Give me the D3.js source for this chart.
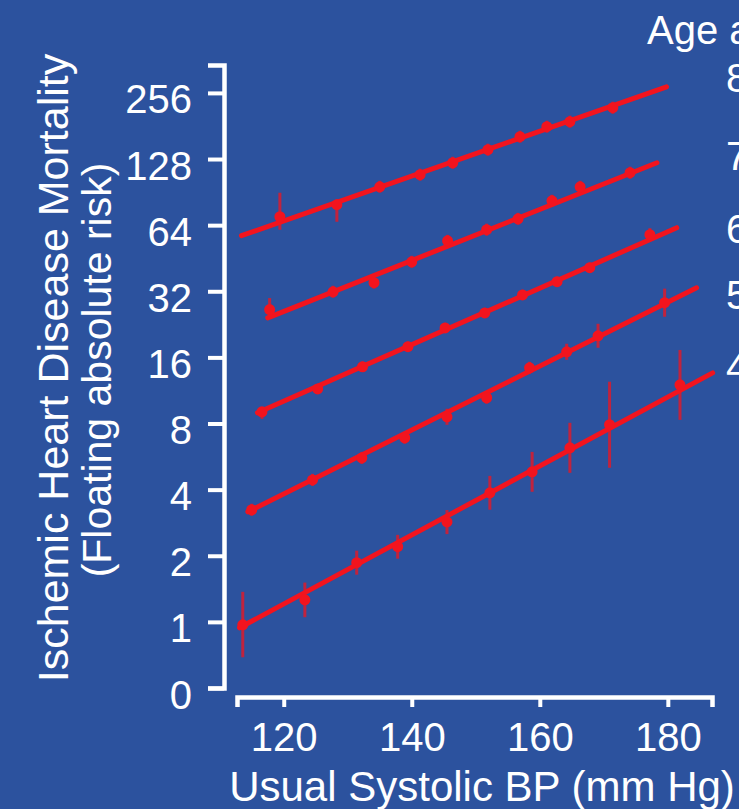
<!DOCTYPE html>
<html>
<head>
<meta charset="utf-8">
<script src="https://cdn.jsdelivr.net/npm/d3@7"></script>
<style>
  html, body { margin: 0; padding: 0; background: #2C529E; overflow: hidden; }
  svg { display: block; }
  text { font-family: "Liberation Sans", Arial, sans-serif; fill: #FFFFFF; }
</style>
</head>
<body>
<svg id="chart" width="739" height="809"></svg>
<script>
// ---- data ----
const xTickValues = [120, 140, 160, 180];
const xTickLabels = ["120", "140", "160", "180"];
const yTickValues = [0.5, 1, 2, 4, 8, 16, 32, 64, 128, 256];
const yTickLabels = ["0", "1", "2", "4", "8", "16", "32", "64", "128", "256"];

const ageLabels = ["80-89", "70-79", "60-69", "50-59", "40-49"];
const ageLabelRisk = [300, 133, 62, 31, 14.5];

// age 40-49
const bp40   = [113.6, 123.3, 131.4, 137.8, 145.5, 152.2, 158.8, 164.7, 170.9, 181.9];
const risk40 = [0.97, 1.26, 1.86, 2.2, 2.85, 3.87, 4.82, 6.2, 7.9, 12.0];
const lo40   = [0.69, 1.05, 1.64, 1.94, 2.51, 3.24, 3.91, 4.77, 5.03, 8.31];
const hi40   = [1.37, 1.51, 2.11, 2.49, 3.23, 4.62, 5.94, 8.06, 12.4, 17.3];
const fitBp40 = [113.1, 187.0], fitRisk40 = [0.94, 13.6];

// age 50-59
const bp50   = [115.0, 124.5, 132.2, 138.9, 145.5, 151.7, 158.4, 164.2, 169.1, 179.5];
const risk50 = [3.24, 4.43, 5.58, 6.89, 8.58, 10.48, 14.35, 16.97, 20.07, 28.4];
const lo50   = [3.04, 4.16, 5.24, 6.47, 7.89, 9.84, 13.47, 15.6, 17.7, 24.5];
const hi50   = [3.45, 4.72, 5.94, 7.34, 9.34, 11.16, 15.28, 18.46, 22.76, 32.9];
const fitBp50 = [114.4, 184.5], fitRisk50 = [3.17, 33.2];

// age 60-69
const bp60   = [116.6, 125.3, 132.3, 139.4, 145.2, 151.4, 157.3, 162.7, 167.8, 177.2];
const risk60 = [9.04, 11.5, 14.5, 17.9, 21.8, 25.5, 30.8, 35.4, 41.0, 57.9];
const lo60   = [8.4, 10.9, 13.8, 17.0, 20.7, 24.2, 29.2, 33.6, 38.9, 54.0];
const hi60   = [9.5, 12.1, 15.3, 18.9, 23.0, 26.9, 32.5, 37.3, 43.2, 62.0];
const fitBp60 = [115.9, 181.4], fitRisk60 = [8.95, 62.3];

// age 70-79
const bp70   = [117.8, 127.7, 134.1, 140.0, 145.6, 151.7, 156.6, 161.9, 166.3, 174.1];
const risk70 = [26.4, 31.8, 35.0, 43.6, 54.3, 61.0, 68.4, 82.6, 95.7, 110.9];
const lo70   = [24.1, 29.9, 32.9, 40.9, 51.0, 57.3, 64.2, 77.6, 89.9, 104.1];
const hi70   = [29.8, 33.9, 37.3, 46.4, 57.8, 65.0, 72.8, 88.0, 101.9, 118.1];
const fitBp70 = [117.5, 178.3], fitRisk70 = [24.2, 123.1];

// age 80-89
const bp80   = [119.4, 128.3, 135.0, 141.3, 146.4, 151.9, 156.9, 161.1, 164.7, 171.4];
const risk80 = [69.9, 79.3, 95.7, 108.6, 123.1, 141.1, 161.7, 179.6, 189.3, 219.2];
const lo80   = [61.0, 66.3, 89.9, 102.0, 115.6, 132.5, 151.8, 168.6, 177.7, 205.8];
const hi80   = [89.9, 84.0, 101.9, 115.7, 131.1, 150.3, 172.2, 191.3, 201.6, 233.4];
const fitBp80 = [113.4, 179.8], fitRisk80 = [57.3, 273];

// ---- build series table ----
const series = [
  {bp: bp40, risk: risk40, lo: lo40, hi: hi40, fitBp: fitBp40, fitRisk: fitRisk40},
  {bp: bp50, risk: risk50, lo: lo50, hi: hi50, fitBp: fitBp50, fitRisk: fitRisk50},
  {bp: bp60, risk: risk60, lo: lo60, hi: hi60, fitBp: fitBp60, fitRisk: fitRisk60},
  {bp: bp70, risk: risk70, lo: lo70, hi: hi70, fitBp: fitBp70, fitRisk: fitRisk70},
  {bp: bp80, risk: risk80, lo: lo80, hi: hi80, fitBp: fitBp80, fitRisk: fitRisk80}
];

// ---- drawing ----
const RED = "#F2141E";
const svg = d3.select("#chart");
svg.append("rect").attr("width", 739).attr("height", 809).attr("fill", "#2C529E");

const x = d3.scaleLinear().domain([112.7, 186.9]).range([237, 712]);
const y = d3.scaleLog().base(2).domain([0.5, 343]).range([688, 65]);

// y axis
const yAxis = d3.axisLeft(y)
  .tickValues(yTickValues)
  .tickFormat((d, i) => yTickLabels[i])
  .tickSize(16).tickSizeOuter(16).tickPadding(16);
const gy = svg.append("g").attr("transform", "translate(224,0)").call(yAxis);
gy.select(".domain").attr("stroke", "#FFFFFF").attr("stroke-width", 4.5);
gy.selectAll(".tick line").attr("stroke", "#FFFFFF").attr("stroke-width", 4);
gy.selectAll(".tick text").attr("fill", "#FFFFFF").attr("dy", "0.5em")
  .style("font-size", "40px").style("font-family", "'Liberation Sans', Arial, sans-serif");

// x axis
const xAxis = d3.axisBottom(x)
  .tickValues(xTickValues)
  .tickFormat((d, i) => xTickLabels[i])
  .tickSize(10).tickSizeOuter(10).tickPadding(16);
const gx = svg.append("g").attr("transform", "translate(0,697)").call(xAxis);
gx.select(".domain").attr("stroke", "#FFFFFF").attr("stroke-width", 4.5);
gx.selectAll(".tick line").attr("stroke", "#FFFFFF").attr("stroke-width", 4);
gx.selectAll(".tick text").attr("fill", "#FFFFFF")
  .style("font-size", "40px").style("font-family", "'Liberation Sans', Arial, sans-serif");

// axis titles
svg.append("text").attr("x", 482).attr("y", 801).attr("text-anchor", "middle")
  .style("font-size", "42px").text("Usual Systolic BP (mm Hg)");
svg.append("text").attr("transform", "translate(68,368) rotate(-90)").attr("text-anchor", "middle")
  .style("font-size", "43px").text("Ischemic Heart Disease Mortality");
svg.append("text").attr("transform", "translate(111,370) rotate(-90)").attr("text-anchor", "middle")
  .style("font-size", "41px").text("(Floating absolute risk)");

// series
const line = d3.line().x(d => x(d[0])).y(d => y(d[1]));
series.forEach(s => {
  const g = svg.append("g");
  const pts = s.bp.map((b, i) => ({bp: b, r: s.risk[i], lo: s.lo[i], hi: s.hi[i]}));
  g.selectAll("line.err").data(pts).join("line").attr("class", "err")
    .attr("x1", d => x(d.bp)).attr("x2", d => x(d.bp))
    .attr("y1", d => y(d.lo)).attr("y2", d => y(d.hi))
    .attr("stroke", RED).attr("stroke-width", 3).attr("stroke-opacity", 0.75);
  g.append("path").datum(s.fitBp.map((b, i) => [b, s.fitRisk[i]]))
    .attr("d", line).attr("fill", "none").attr("stroke", RED)
    .attr("stroke-width", 5).attr("stroke-linecap", "round");
  g.selectAll("circle").data(pts).join("circle")
    .attr("cx", d => x(d.bp)).attr("cy", d => y(d.r)).attr("r", 5.5).attr("fill", RED);
});

// legend (cut by the right edge as in the reference)
svg.append("text").attr("x", 647).attr("y", 44).style("font-size", "40px").text("Age at risk:");
svg.selectAll("text.age").data(ageLabels).join("text").attr("class", "age")
  .attr("x", 726).attr("y", (d, i) => y(ageLabelRisk[i])).attr("dy", "0.36em")
  .style("font-size", "40px").text(d => d);
</script>
</body>
</html>
